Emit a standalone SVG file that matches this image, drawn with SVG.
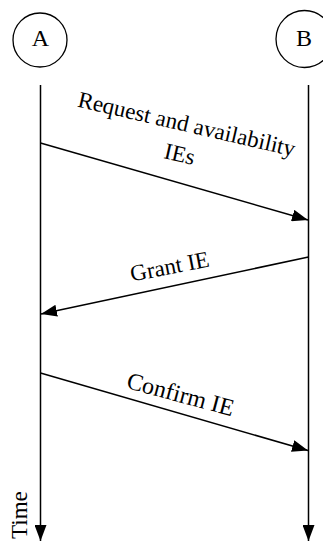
<svg xmlns="http://www.w3.org/2000/svg" width="323" height="542" viewBox="0 0 323 542">
<style>
  .node { fill: none; stroke: #000; stroke-width: 1.3; }
  .msg { stroke: #000; stroke-width: 1.5; fill: none; marker-end: url(#ah); }
  text { font-family: "Liberation Serif", "Times New Roman", serif; font-size: 23px; fill: #000; }
</style>
<defs>
  <marker id="ah" viewBox="0 0 16 12" refX="16" refY="6" markerWidth="16" markerHeight="12" markerUnits="userSpaceOnUse" orient="auto">
    <path d="M0,0 L16,6 L0,12 z" fill="#000"/>
  </marker>
</defs>
<rect width="323" height="542" fill="#fff"/>
<g id="nodeA">
  <circle class="node" cx="40" cy="40" r="27"/>
  <text x="40.5" y="45.5" text-anchor="middle" style="font-size:24px">A</text>
</g>
<g id="nodeB">
  <circle class="node" cx="304.5" cy="39" r="28.5"/>
  <text x="304" y="46" text-anchor="middle" style="font-size:24px">B</text>
</g>
<g id="connectors">
  <line class="msg" x1="40.5" y1="85" x2="40.5" y2="541"/>
  <line class="msg" x1="308.5" y1="85" x2="308.5" y2="541"/>
  <line class="msg" x1="40.5" y1="143" x2="308" y2="220"/>
  <line class="msg" x1="308.5" y1="257" x2="41" y2="314"/>
  <line class="msg" x1="40.5" y1="373" x2="308" y2="450.5"/>
</g>
<g id="labels">
  <text transform="translate(185,131.5) rotate(13)" text-anchor="middle">Request and availability</text>
  <text transform="translate(178,161.5) rotate(13)" text-anchor="middle">IEs</text>
  <text transform="translate(171,274) rotate(-11)" text-anchor="middle">Grant IE</text>
  <text transform="translate(178.5,402) rotate(15)" text-anchor="middle" style="font-size:24px">Confirm IE</text>
  <text transform="translate(27,539) rotate(-90)">Time</text>
</g>
</svg>
